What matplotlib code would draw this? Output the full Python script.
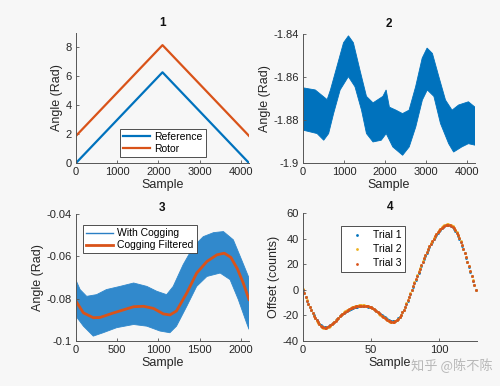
import matplotlib
matplotlib.use("Agg")
import matplotlib.pyplot as plt
from matplotlib.ticker import FormatStrFormatter

# ---- panel 1: reference vs rotor angle (triangle sweep)
p1_x = [0, 2100, 4200]
p1_reference = [0.0, 6.28, 0.0]
p1_rotor = [1.88, 8.16, 1.88]

# ---- panel 2: angle error, read as upper / lower envelope of the dense band
p2_up_x = [0, 300, 590, 670, 830, 990, 1110, 1230, 1390, 1550, 1710, 1950,
           2030, 2110, 2270, 2430, 2590, 2750, 2910, 3030, 3160, 3320,
           3480, 3640, 3800, 4040, 4200]
p2_upper = [-1.8650, -1.8660, -1.8705, -1.8660, -1.8550, -1.8440, -1.8408,
            -1.8440, -1.8567, -1.8690, -1.8720, -1.8690, -1.8660, -1.8740,
            -1.8754, -1.8770, -1.8754, -1.8645, -1.8512, -1.8465, -1.8490,
            -1.8600, -1.8707, -1.8754, -1.8730, -1.8715, -1.8740]
p2_low_x = [0, 345, 506, 626, 747, 907, 1108, 1269, 1429, 1550, 1710, 1911,
            2032, 2192, 2433, 2594, 2754, 2915, 3035, 3196, 3357, 3557,
            3678, 3879, 4039, 4200]
p2_lower = [-1.8847, -1.8863, -1.8894, -1.8863, -1.8770, -1.8660, -1.8598,
            -1.8645, -1.8754, -1.8863, -1.8902, -1.8894, -1.8863, -1.8925,
            -1.8964, -1.8925, -1.8832, -1.8707, -1.8660, -1.8690, -1.8816,
            -1.8910, -1.8949, -1.8925, -1.8910, -1.8917]

# ---- panel 3: with cogging (band envelope) and filtered curve
p3_up_x = [0, 50, 130, 250, 370, 535, 700, 860, 980, 1100, 1180, 1300,
           1425, 1545, 1670, 1790, 1910, 2010, 2100]
p3_upper = [-0.0713, -0.0757, -0.0789, -0.0781, -0.0757, -0.0742, -0.0726,
            -0.0742, -0.0765, -0.0781, -0.0742, -0.0640, -0.0554, -0.0507,
            -0.0488, -0.0483, -0.0522, -0.0616, -0.0702]
p3_low_x = [0, 90, 210, 330, 495, 700, 860, 1020, 1140, 1220, 1345, 1465,
            1590, 1750, 1870, 1970, 2070, 2100]
p3_lower = [-0.0883, -0.0930, -0.0977, -0.0961, -0.0937, -0.0922, -0.0930,
            -0.0953, -0.0961, -0.0930, -0.0836, -0.0742, -0.0695, -0.0679,
            -0.0710, -0.0804, -0.0914, -0.0945]
p3_filt_x = [0, 90, 210, 290, 450, 700, 820, 940, 1060, 1140, 1220, 1345,
             1465, 1590, 1710, 1800, 1880, 1960, 2030, 2100]
p3_filtered = [-0.0812, -0.0867, -0.0890, -0.0889, -0.0868, -0.0838, -0.0836,
               -0.0846, -0.0872, -0.0877, -0.0858, -0.0773, -0.0679, -0.0624,
               -0.0593, -0.0585, -0.0605, -0.0660, -0.0726, -0.0804]

# ---- panel 4: cogging offset per sample, three trials
p4_trial1 = [
    0.0, -2.8, -5.7, -8.4, -11.0, -13.5, -15.9, -18.0, -20.0, -21.9,
    -23.6, -25.1, -26.4, -27.5, -28.3, -28.8, -29.0, -29.0, -28.7, -28.2,
    -27.5, -26.7, -25.8, -24.8, -23.8, -22.8, -21.8, -20.8, -19.9, -19.0,
    -18.2, -17.4, -16.7, -16.1, -15.5, -15.0, -14.5, -14.1, -13.8, -13.5,
    -13.2, -13.0, -12.9, -12.8, -12.7, -12.7, -12.8, -12.9, -13.1, -13.4,
    -13.8, -14.3, -14.9, -15.6, -16.4, -17.2, -18.1, -19.0, -19.9, -20.8,
    -21.6, -22.4, -23.1, -23.7, -24.1, -24.4, -24.5, -24.4, -24.0, -23.3,
    -22.3, -21.0, -19.4, -17.6, -15.6, -13.4, -11.0, -8.5, -5.9, -3.2,
    -0.5, 2.3, 5.1, 7.9, 10.7, 13.5, 16.2, 18.9, 21.5, 24.1,
    26.6, 29.0, 31.3, 33.5, 35.6, 37.6, 39.5, 41.3, 43.0, 44.5,
    45.9, 47.1, 48.2, 49.1, 49.8, 50.3, 50.6, 50.7, 50.4, 49.8,
    48.9, 47.7, 46.2, 44.4, 42.3, 40.0, 37.4, 34.6, 31.6, 28.4,
    25.0, 21.5, 17.9, 14.2, 10.5, 6.9, 3.4, 0.0]
p4_trial2 = [
    0.3, -2.6, -5.5, -8.3, -11.0, -13.6, -16.1, -18.3, -20.4, -22.3,
    -24.0, -25.6, -27.0, -28.1, -29.0, -29.6, -29.9, -29.8, -29.4, -28.8,
    -28.0, -27.1, -26.1, -25.0, -23.9, -22.8, -21.7, -20.6, -19.6, -18.6,
    -17.7, -16.9, -16.1, -15.4, -14.8, -14.2, -13.7, -13.3, -12.9, -12.6,
    -12.4, -12.2, -12.1, -12.0, -12.0, -12.1, -12.3, -12.5, -12.8, -13.2,
    -13.7, -14.3, -15.0, -15.8, -16.7, -17.6, -18.6, -19.6, -20.5, -21.4,
    -22.3, -23.1, -23.8, -24.4, -24.9, -25.2, -25.3, -25.1, -24.6, -23.8,
    -22.7, -21.3, -19.6, -17.7, -15.5, -13.2, -10.7, -8.1, -5.4, -2.6,
    0.2, 3.0, 5.9, 8.7, 11.5, 14.3, 17.0, 19.7, 22.3, 24.9,
    27.4, 29.8, 32.1, 34.3, 36.4, 38.4, 40.3, 42.1, 43.7, 45.2,
    46.5, 47.7, 48.8, 49.7, 50.4, 50.9, 51.2, 51.3, 51.0, 50.4,
    49.5, 48.3, 46.8, 45.0, 42.9, 40.6, 38.0, 35.2, 32.2, 29.0,
    25.6, 22.1, 18.5, 14.8, 11.1, 7.4, 3.7, 0.2]
p4_trial3 = [
    0.1, -2.7, -5.6, -8.4, -11.0, -13.6, -16.0, -18.2, -20.2, -22.1,
    -23.8, -25.4, -26.8, -27.9, -28.8, -29.4, -29.6, -29.5, -29.1, -28.5,
    -27.8, -26.9, -26.0, -25.0, -24.0, -22.9, -21.8, -20.8, -19.8, -18.9,
    -18.0, -17.2, -16.4, -15.7, -15.1, -14.5, -14.0, -13.6, -13.2, -12.9,
    -12.7, -12.5, -12.4, -12.3, -12.3, -12.4, -12.5, -12.7, -13.0, -13.3,
    -13.8, -14.3, -15.0, -15.7, -16.5, -17.4, -18.3, -19.2, -20.2, -21.1,
    -22.0, -22.8, -23.5, -24.1, -24.6, -24.9, -25.0, -24.8, -24.3, -23.5,
    -22.5, -21.1, -19.5, -17.6, -15.5, -13.3, -10.8, -8.3, -5.6, -2.9,
    -0.1, 2.7, 5.5, 8.3, 11.1, 13.9, 16.6, 19.3, 21.9, 24.5,
    27.0, 29.4, 31.7, 33.9, 36.0, 38.0, 39.9, 41.7, 43.4, 44.9,
    46.2, 47.4, 48.5, 49.4, 50.1, 50.6, 50.9, 51.0, 50.7, 50.1,
    49.2, 48.0, 46.5, 44.7, 42.6, 40.3, 37.7, 34.9, 31.9, 28.7,
    25.3, 21.8, 18.2, 14.5, 10.8, 7.2, 3.6, 0.1]
p4_samples = list(range(len(p4_trial1)))

BLUE = "#0072BD"
ORANGE = "#D95319"
YELLOW = "#EDB120"
BG = "#f7f7f7"
AXC = "#555555"

plt.rcParams["font.family"] = ["Liberation Sans", "DejaVu Sans"]


def style(ax, title, ylabel, title_pad=5):
    ax.set_facecolor(BG)
    for s in ("top", "right"):
        ax.spines[s].set_visible(False)
    for s in ("left", "bottom"):
        ax.spines[s].set_color(AXC)
        ax.spines[s].set_linewidth(0.7)
    ax.tick_params(direction="in", length=2.5, width=0.6, colors=AXC,
                   labelcolor="#262626", labelsize=8, pad=3)
    ax.set_title(title, fontsize=8.5, fontweight="bold", pad=title_pad,
                 color="#111111")
    ax.set_xlabel("Sample", fontsize=9, color="#262626", labelpad=1)
    ax.set_ylabel(ylabel, fontsize=9, color="#262626", labelpad=2)
    ax.yaxis.set_major_formatter(FormatStrFormatter("%g"))


def legend(ax, **kw):
    opts = dict(fontsize=7.5, fancybox=False, framealpha=1,
                facecolor="white", edgecolor="#333333",
                borderpad=0.3, labelspacing=0.2, handletextpad=0.4,
                borderaxespad=0)
    opts.update(kw)
    lg = ax.legend(**opts)
    lg.get_frame().set_linewidth(0.6)
    return lg


def band(ax, up_x, up_y, low_x, low_y, color):
    # closed outline: upper envelope left->right, lower envelope right->left
    xs = list(up_x) + list(low_x)[::-1]
    ys = list(up_y) + list(low_y)[::-1]
    ax.fill(xs, ys, color=color, lw=0.6, edgecolor=color)


fig = plt.figure(figsize=(5.0, 3.86), dpi=100, facecolor=BG)

# 1
ax1 = fig.add_axes([0.152, 0.5777, 0.346, 0.3368])
ax1.plot(p1_x, p1_reference, color=BLUE, lw=1.6, label="Reference")
ax1.plot(p1_x, p1_rotor, color=ORANGE, lw=1.6, label="Rotor")
ax1.set_xlim(0, 4200)
ax1.set_ylim(0, 9)
ax1.set_xticks([0, 1000, 2000, 3000, 4000])
ax1.set_yticks([0, 2, 4, 6, 8])
style(ax1, "1", "Angle (Rad)")
legend(ax1, loc="lower left", bbox_to_anchor=(0.254, 0.046), handlelength=2.6)

# 2
ax2 = fig.add_axes([0.606, 0.5777, 0.344, 0.334])
band(ax2, p2_up_x, p2_upper, p2_low_x, p2_lower, BLUE)
ax2.set_xlim(0, 4200)
ax2.set_ylim(-1.9, -1.84)
ax2.set_xticks([0, 1000, 2000, 3000, 4000])
ax2.set_yticks([-1.9, -1.88, -1.86, -1.84])
style(ax2, "2", "Angle (Rad)")

# 3
ax3 = fig.add_axes([0.152, 0.1166, 0.346, 0.329])
band(ax3, p3_up_x, p3_upper, p3_low_x, p3_lower, "#3189cc")
ax3.plot([], [], color="#2a7fc4", lw=1.0, label="With Cogging")
ax3.plot(p3_filt_x, p3_filtered, color=ORANGE, lw=2.0, label="Cogging Filtered")
ax3.set_xlim(0, 2100)
ax3.set_ylim(-0.1, -0.04)
ax3.set_xticks([0, 500, 1000, 1500, 2000])
ax3.set_yticks([-0.1, -0.08, -0.06, -0.04])
style(ax3, "3", "Angle (Rad)", title_pad=2)
legend(ax3, loc="upper left", bbox_to_anchor=(0.04, 0.913), handlelength=2.6)

# 4
ax4 = fig.add_axes([0.606, 0.1166, 0.348, 0.3316])
ax4.scatter(p4_samples, p4_trial1, s=4, color=BLUE, lw=0, label="Trial 1")
ax4.scatter(p4_samples, p4_trial2, s=4, color=YELLOW, lw=0, label="Trial 2")
ax4.scatter(p4_samples, p4_trial3, s=4, color=ORANGE, lw=0, label="Trial 3")
ax4.set_xlim(0, 128)
ax4.set_ylim(-40, 60)
ax4.set_xticks([0, 50, 100])
ax4.set_yticks([-40, -20, 0, 20, 40, 60])
style(ax4, "4", "Offset (counts)", title_pad=2)
legend(ax4, loc="upper left", bbox_to_anchor=(0.22, 0.90),
       handlelength=2.2, labelspacing=0.4, borderpad=0.4, markerscale=1.0)

# watermark
fig.text(0.822, 0.052, "知乎 @陈不陈", fontsize=9.5, color="#b8b8b8",
         family=["Noto Sans CJK SC", "DejaVu Sans"], va="center", ha="left")

fig.savefig("out.png", dpi=100, facecolor=BG)
